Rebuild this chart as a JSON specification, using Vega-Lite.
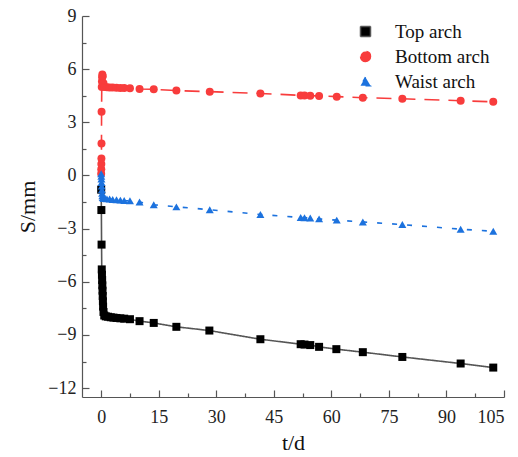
{
  "$schema": "https://vega.github.io/schema/vega-lite/v6.json",
  "autosize": "none",
  "width": 422,
  "height": 381,
  "padding": {"left": 82, "top": 16, "right": 14, "bottom": 60},
  "background": "white",
  "config": {
    "view": {"stroke": null},
    "font": "Liberation Serif",
    "axis": {
      "grid": false,
      "domainColor": "#555555",
      "tickColor": "#555555",
      "domainWidth": 1.2,
      "tickWidth": 1.2,
      "labelFont": "Liberation Serif",
      "labelFontSize": 18,
      "labelColor": "#222222",
      "titleFont": "Liberation Serif",
      "titleFontSize": 22,
      "titleFontWeight": "normal",
      "titleColor": "#111111"
    }
  },
  "data": {
    "values": [
      {"series": "Top arch", "t": 0, "S": -0.8},
      {"series": "Top arch", "t": 0.05, "S": -1.95},
      {"series": "Top arch", "t": 0.1, "S": -3.9},
      {"series": "Top arch", "t": 0.15, "S": -5.3},
      {"series": "Top arch", "t": 0.2, "S": -5.6},
      {"series": "Top arch", "t": 0.25, "S": -5.9},
      {"series": "Top arch", "t": 0.3, "S": -6.2},
      {"series": "Top arch", "t": 0.35, "S": -6.5},
      {"series": "Top arch", "t": 0.4, "S": -6.8},
      {"series": "Top arch", "t": 0.45, "S": -7.1},
      {"series": "Top arch", "t": 0.5, "S": -7.4},
      {"series": "Top arch", "t": 0.6, "S": -7.7},
      {"series": "Top arch", "t": 0.8, "S": -7.9},
      {"series": "Top arch", "t": 1.2, "S": -7.95},
      {"series": "Top arch", "t": 1.8, "S": -7.97},
      {"series": "Top arch", "t": 2.5, "S": -8.0},
      {"series": "Top arch", "t": 3.2, "S": -8.02},
      {"series": "Top arch", "t": 4, "S": -8.04},
      {"series": "Top arch", "t": 5, "S": -8.06},
      {"series": "Top arch", "t": 6, "S": -8.08},
      {"series": "Top arch", "t": 7.5, "S": -8.11},
      {"series": "Top arch", "t": 10, "S": -8.22},
      {"series": "Top arch", "t": 13.7, "S": -8.32},
      {"series": "Top arch", "t": 19.6, "S": -8.54},
      {"series": "Top arch", "t": 28.2, "S": -8.75},
      {"series": "Top arch", "t": 41.5, "S": -9.24},
      {"series": "Top arch", "t": 52, "S": -9.52},
      {"series": "Top arch", "t": 53, "S": -9.54},
      {"series": "Top arch", "t": 54.5, "S": -9.57},
      {"series": "Top arch", "t": 56.8, "S": -9.67},
      {"series": "Top arch", "t": 61.3, "S": -9.8},
      {"series": "Top arch", "t": 68.2, "S": -9.97},
      {"series": "Top arch", "t": 78.5, "S": -10.24},
      {"series": "Top arch", "t": 93.7, "S": -10.61},
      {"series": "Top arch", "t": 102.2, "S": -10.84},
      {"series": "Bottom arch", "t": 0, "S": 0.1},
      {"series": "Bottom arch", "t": 0.02, "S": 0.35},
      {"series": "Bottom arch", "t": 0.04, "S": 0.65},
      {"series": "Bottom arch", "t": 0.06, "S": 0.96},
      {"series": "Bottom arch", "t": 0.08, "S": 1.81},
      {"series": "Bottom arch", "t": 0.1, "S": 3.6},
      {"series": "Bottom arch", "t": 0.15, "S": 5.0},
      {"series": "Bottom arch", "t": 0.2, "S": 5.3},
      {"series": "Bottom arch", "t": 0.25, "S": 5.55},
      {"series": "Bottom arch", "t": 0.3, "S": 5.7},
      {"series": "Bottom arch", "t": 0.4, "S": 5.6},
      {"series": "Bottom arch", "t": 0.6, "S": 5.2},
      {"series": "Bottom arch", "t": 0.9, "S": 5.0},
      {"series": "Bottom arch", "t": 1.5, "S": 4.98},
      {"series": "Bottom arch", "t": 2.2, "S": 4.97},
      {"series": "Bottom arch", "t": 3, "S": 4.96},
      {"series": "Bottom arch", "t": 4, "S": 4.95},
      {"series": "Bottom arch", "t": 5, "S": 4.94},
      {"series": "Bottom arch", "t": 6, "S": 4.93},
      {"series": "Bottom arch", "t": 7.5, "S": 4.92},
      {"series": "Bottom arch", "t": 10, "S": 4.88},
      {"series": "Bottom arch", "t": 13.7, "S": 4.86},
      {"series": "Bottom arch", "t": 19.6, "S": 4.79},
      {"series": "Bottom arch", "t": 28.3, "S": 4.73},
      {"series": "Bottom arch", "t": 41.5, "S": 4.63},
      {"series": "Bottom arch", "t": 52, "S": 4.52},
      {"series": "Bottom arch", "t": 53, "S": 4.51},
      {"series": "Bottom arch", "t": 54.5, "S": 4.5},
      {"series": "Bottom arch", "t": 56.8, "S": 4.49},
      {"series": "Bottom arch", "t": 61.4, "S": 4.45},
      {"series": "Bottom arch", "t": 68.2, "S": 4.39},
      {"series": "Bottom arch", "t": 78.5, "S": 4.33},
      {"series": "Bottom arch", "t": 93.7, "S": 4.22},
      {"series": "Bottom arch", "t": 102.2, "S": 4.16},
      {"series": "Waist arch", "t": 0, "S": 0.1},
      {"series": "Waist arch", "t": 0.03, "S": -0.05},
      {"series": "Waist arch", "t": 0.06, "S": -0.2},
      {"series": "Waist arch", "t": 0.1, "S": -0.4},
      {"series": "Waist arch", "t": 0.15, "S": -0.6},
      {"series": "Waist arch", "t": 0.2, "S": -0.8},
      {"series": "Waist arch", "t": 0.25, "S": -1.0},
      {"series": "Waist arch", "t": 0.3, "S": -1.15},
      {"series": "Waist arch", "t": 0.4, "S": -1.25},
      {"series": "Waist arch", "t": 0.6, "S": -1.3},
      {"series": "Waist arch", "t": 1, "S": -1.3},
      {"series": "Waist arch", "t": 1.5, "S": -1.32},
      {"series": "Waist arch", "t": 2.2, "S": -1.33},
      {"series": "Waist arch", "t": 3, "S": -1.35},
      {"series": "Waist arch", "t": 4, "S": -1.37},
      {"series": "Waist arch", "t": 5, "S": -1.39},
      {"series": "Waist arch", "t": 6, "S": -1.41},
      {"series": "Waist arch", "t": 7.5, "S": -1.43},
      {"series": "Waist arch", "t": 10, "S": -1.5},
      {"series": "Waist arch", "t": 13.7, "S": -1.65},
      {"series": "Waist arch", "t": 19.6, "S": -1.77},
      {"series": "Waist arch", "t": 28.3, "S": -1.93},
      {"series": "Waist arch", "t": 41.5, "S": -2.2},
      {"series": "Waist arch", "t": 52, "S": -2.37},
      {"series": "Waist arch", "t": 53, "S": -2.38},
      {"series": "Waist arch", "t": 54.5, "S": -2.4},
      {"series": "Waist arch", "t": 56.8, "S": -2.45},
      {"series": "Waist arch", "t": 61.4, "S": -2.52},
      {"series": "Waist arch", "t": 68.2, "S": -2.62},
      {"series": "Waist arch", "t": 78.5, "S": -2.77},
      {"series": "Waist arch", "t": 93.7, "S": -3.03},
      {"series": "Waist arch", "t": 102.2, "S": -3.15}
    ]
  },
  "encoding": {
    "x": {
      "field": "t", "type": "quantitative",
      "scale": {"domain": [-5, 105], "nice": false, "zero": false},
      "axis": {
        "title": "t/d",
        "values": [0, 7.5, 15, 22.5, 30, 37.5, 45, 52.5, 60, 67.5, 75, 82.5, 90, 97.5, 105],
        "labelExpr": "datum.value % 15 === 0 ? datum.label : ''",
        "tickSize": {"condition": {"test": "datum.value % 15 === 0", "value": -7}, "value": -4},
        "labelPadding": 18,
        "titlePadding": 6
      }
    },
    "y": {
      "field": "S", "type": "quantitative",
      "scale": {"domain": [-12.5, 9], "nice": false, "zero": false},
      "axis": {
        "title": "S/mm",
        "values": [-12, -10.5, -9, -7.5, -6, -4.5, -3, -1.5, 0, 1.5, 3, 4.5, 6, 7.5, 9],
        "labelExpr": "datum.value % 3 === 0 ? datum.label : ''",
        "tickSize": {"condition": {"test": "datum.value % 3 === 0", "value": -7}, "value": -4},
        "labelPadding": 13,
        "titlePadding": 8
      }
    }
  },
  "layer": [
    {
      "mark": {"type": "line", "strokeWidth": 1.6},
      "encoding": {
        "stroke": {
          "field": "series", "type": "nominal",
          "scale": {"domain": ["Top arch", "Bottom arch", "Waist arch"], "range": ["#555555", "#F83C3C", "#1C72DE"]}
        },
        "strokeDash": {
          "field": "series", "type": "nominal",
          "scale": {"domain": ["Top arch", "Bottom arch", "Waist arch"], "range": [[1, 0], [15, 9], [5, 10]]}
        },
        "order": {"field": "t", "type": "quantitative"}
      }
    },
    {
      "mark": {"type": "point", "filled": true, "opacity": 1, "size": 64},
      "encoding": {
        "fill": {
          "field": "series", "type": "nominal",
          "scale": {"domain": ["Top arch", "Bottom arch", "Waist arch"], "range": ["#000000", "#F83C3C", "#1C72DE"]}
        },
        "shape": {
          "field": "series", "type": "nominal",
          "scale": {"domain": ["Top arch", "Bottom arch", "Waist arch"], "range": ["square", "circle", "triangle-up"]},
          "legend": {
            "title": null,
            "orient": "none",
            "legendX": 274,
            "legendY": 6,
            "padding": 0,
            "symbolSize": 100,
            "labelFont": "Liberation Serif",
            "labelFontSize": 19,
            "labelColor": "#111111",
            "labelOffset": 20,
            "rowPadding": 5
          }
        }
      }
    }
  ]
}
